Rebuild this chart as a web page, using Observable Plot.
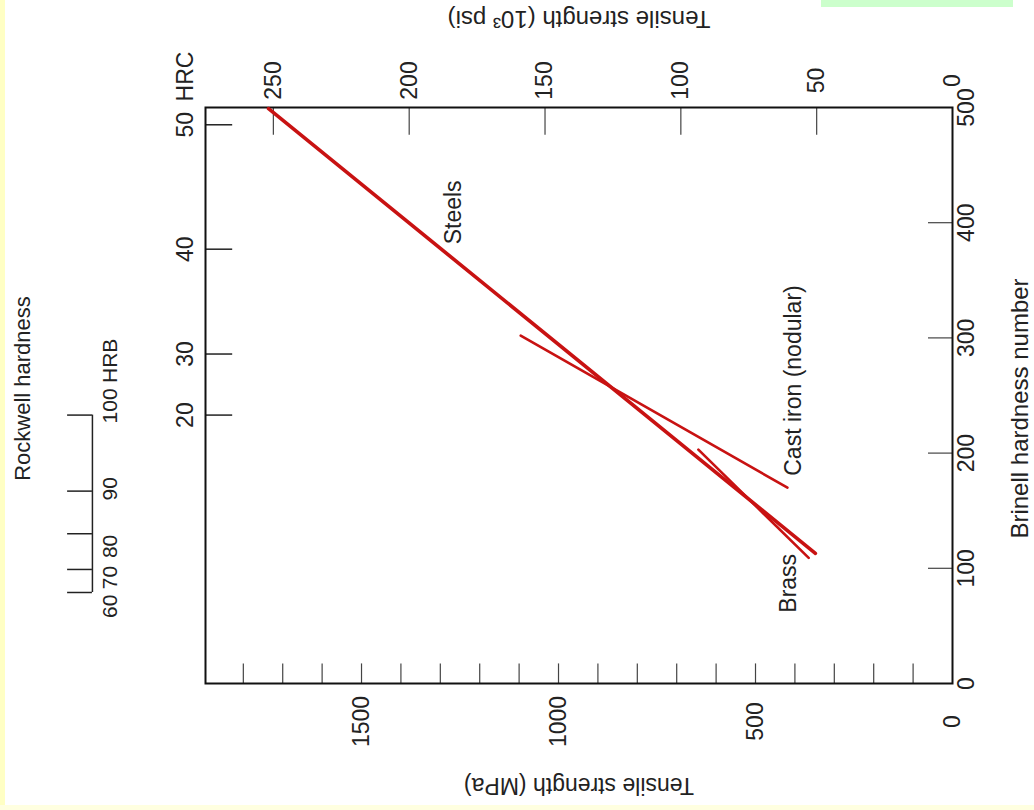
<!DOCTYPE html>
<html><head><meta charset="utf-8">
<script src="https://cdn.jsdelivr.net/npm/d3@7"></script>
<script src="https://cdn.jsdelivr.net/npm/@observablehq/plot@0.6"></script>
<style>
html,body{margin:0;padding:0;background:#fff;}
#wrap{position:relative;width:1034px;height:810px;overflow:hidden;background:#fff;}
#chart svg{display:block;}
.strip{position:absolute;}
</style></head><body>
<div id="wrap"><div id="chart"></div>
<div class="strip" style="left:0;top:0;width:5px;height:810px;background:#ffffc4"></div>
<div class="strip" style="left:0;top:805px;width:1034px;height:5px;background:#ffffe0"></div>
<div class="strip" style="left:821px;top:0;width:192px;height:7px;background:#ccffcc"></div>
</div>
<script>
// Tensile strength (MPa) axis
const mpaTickLabels = [0, 500, 1000, 1500];
const mpaMinorTicks = [100, 200, 300, 400, 500, 600, 700, 800, 900, 1000, 1100, 1200, 1300, 1400, 1500, 1600, 1700, 1800];
// Tensile strength (10^3 psi) axis
const ksiTicks = [0, 50, 100, 150, 200, 250];
const MPA_PER_KSI = 6.895;
// Brinell hardness axis
const brinellTicks = [0, 100, 200, 300, 400, 500];
// Rockwell C scale (value, equivalent Brinell)
const hrcValues = [20, 30, 40, 50];
const hrcBrinell = [233, 286, 377, 485];
// Rockwell B scale (value, equivalent Brinell, label anchor Brinell)
const hrbValues = [60, 70, 80, 90, 100];
const hrbBrinell = [79, 99, 130, 167, 233];
const hrbLabelBrinell = [67, 92, 119, 169, 241];

// Series: tensile strength (MPa) vs Brinell hardness
const steelsMPa = [1736, 348];
const steelsHB = [499, 113];
const castIronMPa = [1096, 419];
const castIronHB = [302, 170];
const brassMPa = [645, 365];
const brassHB = [203, 109];

// Series labels (anchor in data units)
const seriesNames = ["Steels", "Cast iron (nodular)", "Brass"];
const seriesLabelMPa = [1266, 404, 416];
const seriesLabelHB = [409, 263, 87];

const lineData = [
  ...steelsMPa.map((v, i) => ({name: "Steels", mpa: v, hb: steelsHB[i]})),
  ...castIronMPa.map((v, i) => ({name: "Cast iron (nodular)", mpa: v, hb: castIronHB[i]})),
  ...brassMPa.map((v, i) => ({name: "Brass", mpa: v, hb: brassHB[i]}))
];
const labelData = seriesNames.map((n, i) => ({name: n, mpa: seriesLabelMPa[i], hb: seriesLabelHB[i]}));

const RED = "#c81212";
const INK = "#222";
const FS = 23;
const MID = {textAnchor: "middle", lineAnchor: "middle", fill: INK};

const chart = Plot.plot({
  width: 1034,
  height: 810,
  marginLeft: 205,
  marginRight: 82,
  marginTop: 107,
  marginBottom: 127,
  x: {domain: [1896, 0], axis: null},
  y: {domain: [0, 500], axis: null},
  style: {fontFamily: "'Liberation Sans', Arial, sans-serif", background: "transparent", color: INK},
  marks: [
    // bottom MPa ticks
    Plot.ruleX(mpaMinorTicks, {x: d => d, y1: 0, y2: 17, stroke: "#444", strokeWidth: 1.2}),
    Plot.text(mpaTickLabels, {...MID, x: d => d, text: d => String(d), frameAnchor: "bottom", dy: 38, rotate: -90, fontSize: FS}),
    // top ksi ticks
    Plot.ruleX(ksiTicks.filter(d => d > 0), {x: d => d * MPA_PER_KSI, y1: 500, y2: 476, stroke: "#444", strokeWidth: 1.2}),
    Plot.text(ksiTicks, {...MID, x: d => d * MPA_PER_KSI, text: d => String(d), frameAnchor: "top", dy: -27, rotate: -90, fontSize: FS}),
    // right Brinell ticks
    Plot.ruleY(brinellTicks.filter(d => d > 0 && d < 500), {y: d => d, x1: 0, x2: 61, stroke: "#444", strokeWidth: 1.2}),
    Plot.text(brinellTicks, {...MID, y: d => d, text: d => String(d), frameAnchor: "right", dx: 14, rotate: -90, fontSize: FS}),
    // HRC scale
    Plot.ruleY(hrcBrinell, {y: d => d, x1: 1896, x2: 1827, stroke: "#222", strokeWidth: 1.5}),
    Plot.text(hrcValues, {...MID, y: (d, i) => hrcBrinell[i], text: d => String(d), frameAnchor: "left", dx: -20, rotate: -90, fontSize: FS}),
    Plot.text(["HRC"], {...MID, frameAnchor: "top-left", dx: -20, dy: -31, rotate: -90, fontSize: FS}),
    // HRB scale bracket
    Plot.ruleX([hrbBrinell], {x: 2183, y1: d => d[0], y2: d => d[d.length - 1], stroke: "#222", strokeWidth: 1.5}),
    Plot.ruleY(hrbBrinell, {y: d => d, x1: 2183, x2: 2246, stroke: "#222", strokeWidth: 1.5}),
    Plot.text(hrbValues, {...MID, y: (d, i) => hrbLabelBrinell[i], x: 2183, text: d => String(d), dx: 18, rotate: -90, fontSize: 21}),
    Plot.text(["HRB"], {...MID, y: hrbLabelBrinell[hrbLabelBrinell.length - 1], x: 2183, dx: 18, dy: -45, rotate: -90, fontSize: 21}),
    Plot.text(["Rockwell hardness"], {...MID, frameAnchor: "left", dx: -183, dy: -7, rotate: -90, fontSize: 22}),
    // frame
    Plot.frame({stroke: "#111", strokeWidth: 2}),
    // series
    Plot.line(lineData.filter(d => d.name === "Steels"), {x: "mpa", y: "hb", stroke: RED, strokeWidth: 3.6}),
    Plot.line(lineData.filter(d => d.name !== "Steels"), {x: "mpa", y: "hb", z: "name", stroke: RED, strokeWidth: 2.6}),
    Plot.text(labelData, {...MID, x: "mpa", y: "hb", text: "name", rotate: -90, fontSize: 23}),
    // titles
    Plot.text(["Tensile strength (MPa)"], {...MID, frameAnchor: "bottom", dy: 102, rotate: 180, fontSize: 23}),
    Plot.text(["Tensile strength (10\u00B3 psi)"], {...MID, frameAnchor: "top", dy: -89, rotate: 180, fontSize: 24}),
    Plot.text(["Brinell hardness number"], {...MID, frameAnchor: "right", dx: 68, dy: 13, rotate: -90, fontSize: 24})
  ]
});
document.getElementById("chart").appendChild(chart);
</script>
</body></html>
